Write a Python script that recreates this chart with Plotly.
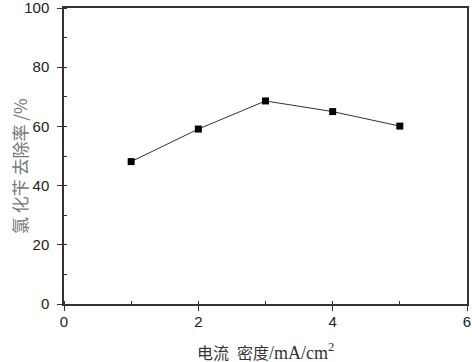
import plotly.graph_objects as go

current_density = [1, 2, 3, 4, 5]
removal_rate = [48.1, 59.1, 68.6, 65.0, 60.1]
x_tick_vals = [0, 2, 4, 6]
y_tick_vals = [0, 20, 40, 60, 80, 100]
x_title = "电流  密度<span style='font-size:18px'>/mA/cm<sup>2</sup></span>"
y_title = "氯 化苄 去除率 /%"

fig = go.Figure()
fig.add_trace(go.Scatter(
    x=current_density, y=removal_rate, mode="lines+markers",
    line=dict(color="#333333", width=1),
    marker=dict(symbol="square", size=7, color="black"),
    showlegend=False,
))

axis_common = dict(
    showline=True, linecolor="#333333", linewidth=1.5, mirror=True,
    ticks="outside", ticklen=5, tickwidth=1.2, tickcolor="#333333",
    showgrid=False, zeroline=False, automargin=False,
    ticklabeloverflow="allow",
    tickfont=dict(family="Liberation Sans, Arial, sans-serif", size=15, color="#222222"),
)

fig.update_xaxes(
    range=[0, 6], tickvals=x_tick_vals, ticklabelstandoff=-2,
    minor=dict(dtick=1, ticks="inside", ticklen=3, tickcolor="#333333"),
    **axis_common,
)
fig.update_yaxes(
    range=[0, 100], tickvals=y_tick_vals, ticklabelstandoff=5,
    minor=dict(dtick=10, ticks="inside", ticklen=3, tickcolor="#333333"),
    **axis_common,
)

fig.add_annotation(
    text=x_title, xref="paper", yref="paper", x=0.5, y=0,
    xanchor="center", yanchor="middle", yshift=-47, showarrow=False,
    font=dict(family="Liberation Serif, Noto Sans CJK SC", size=16, color="#333333"),
)
fig.add_annotation(
    text=y_title, xref="paper", yref="paper", x=0, y=0.466,
    xanchor="center", yanchor="middle", xshift=-45, textangle=-90, showarrow=False,
    font=dict(family="Noto Sans CJK SC", size=17, color="#777777"),
)

fig.update_layout(
    width=472, height=362,
    margin=dict(l=64, r=5, t=8, b=58),
    plot_bgcolor="white", paper_bgcolor="white",
)

fig.write_html(
    "out.html",
    config={"displayModeBar": False},
    post_script="document.body.style.margin='0px';document.body.style.overflow='hidden';",
)
